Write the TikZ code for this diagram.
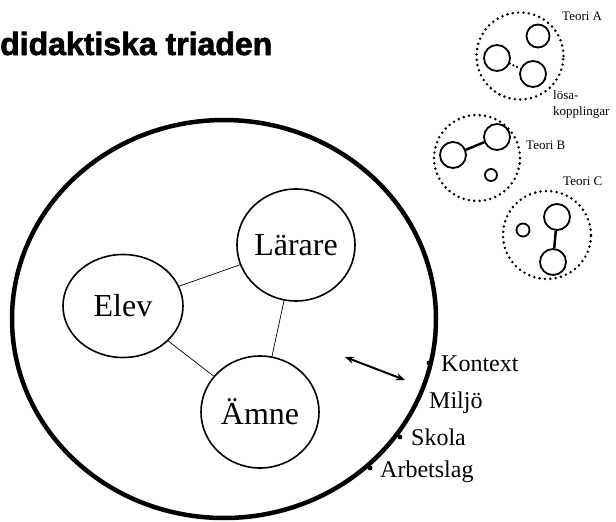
\documentclass[tikz,border=0pt]{standalone}
\usepackage{fontspec}
\setmainfont{Liberation Serif}
\newfontfamily\headfont[FakeBold=2]{Liberation Sans Bold}
\usetikzlibrary{shapes.geometric,arrows.meta}

\begin{document}
\begin{tikzpicture}[x=1pt,y=-1pt,
  part/.style={ellipse, draw, line width=1.6pt, inner sep=0pt, minimum width=116pt, minimum height=110pt, font=\fontsize{32}{36}\selectfont},
  ctx/.style={anchor=base west, inner sep=0pt, font=\fontsize{24}{28}\selectfont},
  theory/.style={circle, draw, line width=2.8pt, dash pattern=on 0pt off 5.4pt, line cap=round, minimum size=87pt, inner sep=0pt},
  unit/.style={circle, draw, line width=1.8pt, minimum size=26pt, inner sep=0pt},
  tag/.style={anchor=base west, inner sep=0pt, font=\fontsize{13}{14}\selectfont}]

\useasboundingbox (0,0) rectangle (616,522);

% title
\node [anchor=base west, inner sep=0pt, font=\headfont\fontsize{32}{36}\selectfont] (title) at (0,55) {didaktiska triaden};

% context and the triad
\node (context) [ellipse, draw, line width=4.5pt, minimum width=424pt, minimum height=398pt] at (224,319) {};
\node (elev) [part, minimum width=120pt, minimum height=103pt] at (123,306) {Elev};
\node (larare) [part, minimum height=112pt] at (296,245) {Lärare};
\node (amne) [part, minimum width=118pt, minimum height=112pt] at (260,412) {Ämne};
\draw [line width=0.7pt] (elev) -- (larare);
\draw [line width=0.7pt] (larare) -- (amne);
\draw [line width=0.7pt] (elev) -- (amne);

\coordinate (inside) at (345,357);
\coordinate (outside) at (405,380);
\draw [{Stealth[length=9pt,width=7pt]}-{Stealth[length=9pt,width=7pt]}, line width=2pt] (inside) -- (outside);

% levels on the border
\coordinate (kontextdot) at (429,363);
\coordinate (skoladot) at (400,437);
\coordinate (arbetsdot) at (370,468);
\fill (kontextdot) circle (2.4pt);
\fill (skoladot) circle (2.4pt);
\fill (arbetsdot) circle (2.4pt);
\node [ctx] (kontext) at (441,371) {Kontext};
\node [ctx] (miljo) at (429,408) {Miljö};
\node [ctx] (skola) at (411,445) {Skola};
\node [ctx] (arbetslag) at (380,477) {Arbetslag};

% Teori A
\node (teoriA) [theory] at (520,56) {};
\node (a1) [unit, minimum size=23pt] at (538,36) {};
\node (a2) [unit] at (497,58) {};
\node (a3) [unit] at (533,74) {};
\draw [line width=2.5pt, dash pattern=on 0pt off 4pt, line cap=round] (a2) -- (a3);
\node [tag] (labelA) at (562,20) {Teori A};
\node [tag] (losa) at (553,99) {lösa-};
\node [tag] (koppl) at (553,115) {kopplingar};

% Teori B
\node (teoriB) [theory, minimum size=86pt] at (477,158) {};
\node (b1) [unit] at (453,155) {};
\node (b2) [unit] at (497,137) {};
\node (b3) [unit, minimum size=12pt] at (491,175) {};
\draw [line width=2.5pt] (b1) -- (b2);
\node [tag] (labelB) at (526,149) {Teori B};

% Teori C
\node (teoriC) [theory, minimum size=88pt] at (547,235) {};
\node (c1) [unit, minimum size=13pt] at (523,230) {};
\node (c2) [unit] at (557,217) {};
\node (c3) [unit] at (553,262) {};
\draw [line width=2.5pt] (c2) -- (c3);
\node [tag] (labelC) at (563,185) {Teori C};

\end{tikzpicture}
\end{document}
